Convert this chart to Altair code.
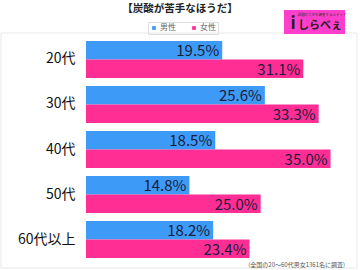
import altair as alt
import pandas as pd

ages = ["20代", "30代", "40代", "50代", "60代以上"]
male = [19.5, 25.6, 18.5, 14.8, 18.2]
female = [31.1, 33.3, 35.0, 25.0, 23.4]
sexes = ["男性", "女性"]
colors = ["#3d9bf7", "#ff2e95"]
title_text = "【炭酸が苦手なほうだ】"
note_text = "(全国の20～60代男女1361名に調査)"

rows = []
for a, m, f in zip(ages, male, female):
    rows.append({"age": a, "sex": "男性", "value": m, "label": f"{m:.1f}%"})
    rows.append({"age": a, "sex": "女性", "value": f, "label": f"{f:.1f}%"})
df = pd.DataFrame(rows)

FONT = "Noto Sans CJK JP"
W, H = 269, 217

y_enc = alt.Y("age:N", sort=ages, title=None,
              scale=alt.Scale(paddingInner=0.178, paddingOuter=0),
              axis=alt.Axis(labelFontSize=14, labelColor="#111", labelFont=FONT,
                            domain=False, ticks=False, labelPadding=11))
yoff = alt.YOffset("sex:N", sort=sexes, scale=alt.Scale(paddingInner=0, paddingOuter=0))
x_enc = alt.X("value:Q", scale=alt.Scale(domain=[0, 38.5]), axis=None)

base = alt.Chart(df)

bars = base.mark_bar(cornerRadius=0).encode(
    x=x_enc, y=y_enc, yOffset=yoff,
    color=alt.Color("sex:N", sort=sexes,
                    scale=alt.Scale(domain=sexes, range=colors),
                    legend=alt.Legend(title=None, orient="none", legendX=62, legendY=-19,
                                      direction="horizontal", symbolType="square",
                                      symbolSize=14, labelFontSize=8, labelFont=FONT,
                                      labelColor="#666", strokeColor="#dddddd",
                                      padding=2, columnPadding=14, labelOffset=2,
                                      symbolStrokeWidth=0)),
)

labels = base.mark_text(align="right", baseline="middle", dx=-3, dy=1,
                        fontSize=15, font=FONT, color="#1c1c3c").encode(
    x=x_enc, y=alt.Y("age:N", sort=ages), yOffset=yoff, text="label:N"
)

deco = pd.DataFrame({"k": [0]})
frame = alt.Chart(deco).mark_rect(fill=None, stroke="#e8e8e8", strokeWidth=1).encode(
    x=alt.value(-85), x2=alt.value(271), y=alt.value(-8), y2=alt.value(227))

title = alt.Chart(deco).mark_text(fontSize=10.5, fontWeight="bold", font=FONT,
                                  color="#222", baseline="middle").encode(
    x=alt.value(94), y=alt.value(-32), text=alt.value(title_text))

logo_bg = alt.Chart(deco).mark_rect(fill="#ff3fcc").encode(
    x=alt.value(198), x2=alt.value(259), y=alt.value(-31), y2=alt.value(-7))
logo_i = alt.Chart(deco).mark_text(fontSize=17, fontWeight="bold", font=FONT,
                                   color="#222", baseline="middle").encode(
    x=alt.value(207), y=alt.value(-17), text=alt.value("i"))
logo_t = alt.Chart(deco).mark_text(fontSize=11, fontWeight="bold", font=FONT,
                                   color="#222", baseline="middle").encode(
    x=alt.value(234), y=alt.value(-15), text=alt.value("しらべぇ"))
logo_s = alt.Chart(deco).mark_text(fontSize=3.5, font=FONT,
                                   color="#333", baseline="middle").encode(
    x=alt.value(236), y=alt.value(-26), text=alt.value("話題のネタを調査するメディア"))

note = alt.Chart(deco).mark_text(fontSize=6, font=FONT, color="#555",
                                 align="right", baseline="middle").encode(
    x=alt.value(259), y=alt.value(224), text=alt.value(note_text))

chart = alt.layer(frame, bars, labels, title, logo_bg, logo_i, logo_t, logo_s, note).properties(
    width=W, height=H,
    padding={"left": 86, "top": 41, "right": 5, "bottom": 12},
    autosize=alt.AutoSizeParams(type="none"),
    background="white",
).configure_view(stroke=None)

chart.save("out.html", embed_options={"renderer": "svg", "actions": False})
